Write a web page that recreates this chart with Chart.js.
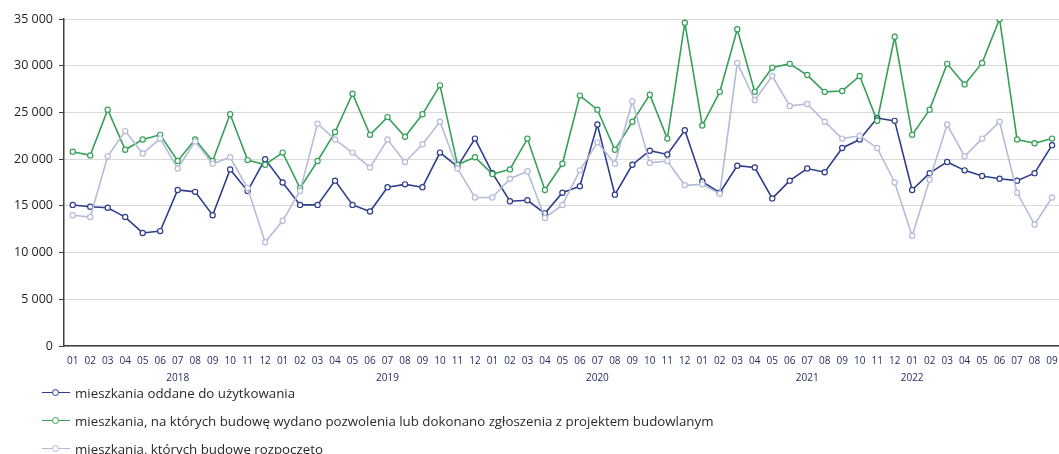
<!DOCTYPE html>
<html lang="pl">
<head>
<meta charset="utf-8">
<script src="https://cdn.jsdelivr.net/npm/chart.js@4.4.1/dist/chart.umd.min.js"></script>
<style>
  html, body { margin: 0; padding: 0; background: #fff; overflow: hidden; }
  #wrap { position: relative; width: 1066px; height: 454px; }
  #chart-box { position: absolute; left: 0; top: 0; width: 1066px; height: 390px; }
  #legend { position: absolute; left: 0; top: 379px; font-family: "Open Sans", sans-serif; font-size: 13.3px; color: #2a2a2a; }
  .item { position: relative; height: 28px; line-height: 28px; padding-left: 75px; white-space: nowrap; }
  .item .ln { position: absolute; left: 42px; top: 13px; width: 28px; height: 0; border-top: 1.5px solid; }
  .item .dot { position: absolute; left: 52px; top: 10px; width: 5px; height: 5px; border-radius: 50%; border: 1px solid; background: #fff; }
</style>
</head>
<body>
<div id="wrap">
  <div id="chart-box"><canvas id="housing"></canvas></div>
  <div id="legend"></div>
</div>
<script>
// Months 2018-01 .. 2022-09
const years = ['2018', '2019', '2020', '2021', '2022'];
const monthsPerYear = [12, 12, 12, 12, 9];

// mieszkania oddane do użytkowania
const completed = [
    15100, 14900, 14800, 13800, 12100, 12300, 16700, 16500, 14000, 18900, 16600, 20000,
    17500, 15100, 15100, 17700, 15100, 14400, 17000, 17300, 17000, 20700, 19200, 22200,
    18500, 15500, 15600, 14200, 16400, 17100, 23700, 16200, 19400, 20900, 20500, 23100,
    17600, 16400, 19300, 19100, 15800, 17700, 19000, 18600, 21200, 22100, 24400, 24100,
    16700, 18500, 19700, 18800, 18200, 17900, 17700, 18500, 21500
];

// mieszkania, na których budowę wydano pozwolenia lub dokonano zgłoszenia
const permits = [
    20800, 20400, 25300, 21000, 22100, 22600, 19800, 22100, 19800, 24800, 19900, 19400,
    20700, 16900, 19800, 22900, 27000, 22600, 24500, 22400, 24800, 27900, 19400, 20200,
    18400, 18900, 22200, 16700, 19500, 26800, 25300, 21000, 24000, 26900, 22200, 34600,
    23600, 27200, 33900, 27200, 29800, 30200, 29000, 27200, 27300, 28900, 24100, 33100,
    22600, 25300, 30200, 28000, 30300, 35000, 22100, 21700, 22200
];

// mieszkania, których budowę rozpoczęto
const started = [
    14000, 13800, 20300, 23000, 20600, 22200, 19000, 21900, 19500, 20200, 16900, 11100,
    13400, 16600, 23800, 22100, 20700, 19100, 22100, 19700, 21600, 24000, 19000, 15900,
    15900, 17900, 18700, 13700, 15100, 18800, 21800, 19500, 26200, 19600, 19800, 17200,
    17300, 16300, 30300, 26300, 28900, 25700, 25900, 24000, 22200, 22500, 21200, 17500,
    11800, 17800, 23700, 20300, 22200, 24000, 16400, 13000, 15900
];

const seriesLabels = [
    'mieszkania oddane do użytkowania',
    'mieszkania, na których budowę wydano pozwolenia lub dokonano zgłoszenia z projektem budowlanym',
    'mieszkania, których budowę rozpoczęto'
];
const colors = ['#2e3d8c', '#35a057', '#b4bcda'];

// month labels, year written under 07 (or 01 for the last, short year)
const labels = [];
years.forEach((y, i) => {
    const n = monthsPerYear[i];
    const yearAt = n === 12 ? 7 : 1;
    for (let m = 1; m <= n; m++) {
        const mm = String(m).padStart(2, '0');
        labels.push(m === yearAt ? [mm, y] : [mm, '']);
    }
});

const fmt = v => String(v).replace(/\B(?=(\d{3})+(?!\d))/g, ' ');

const datasets = [completed, permits, started].map((d, i) => ({
    label: seriesLabels[i],
    data: d,
    borderColor: colors[i],
    backgroundColor: '#fff',
    borderWidth: 1.6,
    pointRadius: 2.6,
    pointBorderWidth: 1.2,
    pointBackgroundColor: '#fff',
    pointBorderColor: colors[i],
    tension: 0
}));

new Chart(document.getElementById('housing'), {
    type: 'line',
    data: { labels, datasets: [datasets[2], datasets[1], datasets[0]] },
    options: {
        responsive: true,
        maintainAspectRatio: false,
        animation: false,
        layout: { padding: { top: 19, right: 0, left: 0, bottom: 0 } },
        plugins: {
            legend: { display: false },
            tooltip: { enabled: false }
        },
        scales: {
            x: {
                offset: true,
                grid: { display: false, drawTicks: false },
                border: { display: true, color: '#404040', width: 1.5 },
                ticks: {
                    autoSkip: false,
                    maxRotation: 0,
                    padding: 6,
                    color: '#1c2a5c',
                    font: { family: 'Open Sans', size: 10, lineHeight: 1.75 }
                },
                afterFit(scale) { scale.height = 44; }
            },
            y: {
                min: 0,
                max: 35000,
                ticks: {
                    stepSize: 5000,
                    padding: 6,
                    color: '#222',
                    font: { family: 'Open Sans', size: 12.5 },
                    callback: v => fmt(v)
                },
                grid: { color: '#d9d9d9', lineWidth: 1, tickLength: 5, tickColor: '#404040' },
                border: { display: true, color: '#404040', width: 1.5 },
                afterFit(scale) { scale.width = 64; }
            }
        }
    }
});

// legend, one entry per row
const legend = document.getElementById('legend');
seriesLabels.forEach((t, i) => {
    const row = document.createElement('div');
    row.className = 'item';
    row.innerHTML = '<span class="ln" style="border-color:' + colors[i] + '"></span>' +
        '<span class="dot" style="border-color:' + colors[i] + '"></span>' + t;
    legend.appendChild(row);
});
</script>
</body>
</html>
